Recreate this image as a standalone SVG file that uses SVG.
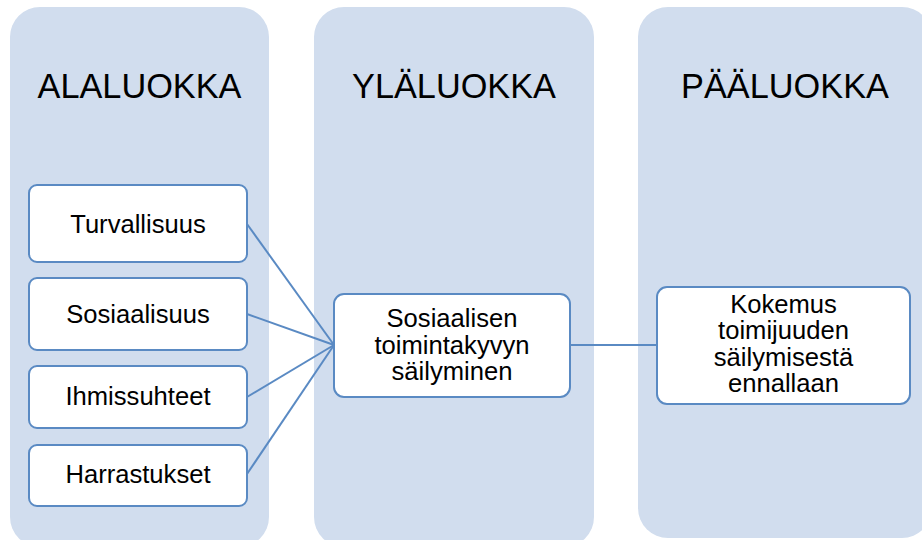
<svg xmlns="http://www.w3.org/2000/svg" width="922" height="540" viewBox="0 0 922 540">
  <style>
    .lane { fill: #D1DDEE; }
    .head { font-family: "Liberation Sans", Arial, sans-serif; font-size: 34.3px; fill: #000; text-anchor: middle; }
    .box { fill: #FFFFFF; stroke: #5A8AC3; stroke-width: 2; }
    .lbl { font-family: "Liberation Sans", Arial, sans-serif; font-size: 25.6px; fill: #000; text-anchor: middle; }
    .link { fill: none; stroke: #5A8AC3; stroke-width: 2; }
  </style>

  <!-- category lanes -->
  <g id="lane-alaluokka">
    <rect class="lane" x="10" y="7" width="259" height="540" rx="30"/>
    <text class="head" x="139.5" y="98">ALALUOKKA</text>
  </g>
  <g id="lane-ylaluokka">
    <rect class="lane" x="314" y="7" width="280" height="540" rx="30"/>
    <text class="head" x="454" y="98">YLÄLUOKKA</text>
  </g>
  <g id="lane-paaluokka">
    <rect class="lane" x="638" y="7" width="294" height="531" rx="30"/>
    <text class="head" x="785" y="98">PÄÄLUOKKA</text>
  </g>

  <!-- connectors -->
  <g id="connectors">
    <line class="link" x1="247" y1="224" x2="334" y2="345"/>
    <line class="link" x1="247" y1="314" x2="334" y2="345"/>
    <line class="link" x1="247" y1="397" x2="334" y2="345"/>
    <line class="link" x1="247" y1="474" x2="334" y2="345"/>
    <line class="link" x1="570" y1="345" x2="657" y2="345"/>
  </g>

  <!-- subcategory nodes -->
  <g id="node-turvallisuus">
    <rect class="box" x="29" y="185" width="218" height="77" rx="8"/>
    <text class="lbl" x="138" y="232.7">Turvallisuus</text>
  </g>
  <g id="node-sosiaalisuus">
    <rect class="box" x="29" y="278" width="218" height="72" rx="8"/>
    <text class="lbl" x="138" y="322.7">Sosiaalisuus</text>
  </g>
  <g id="node-ihmissuhteet">
    <rect class="box" x="29" y="366" width="218" height="62" rx="8"/>
    <text class="lbl" x="138" y="405">Ihmissuhteet</text>
  </g>
  <g id="node-harrastukset">
    <rect class="box" x="29" y="445" width="218" height="61" rx="8"/>
    <text class="lbl" x="138" y="483.3">Harrastukset</text>
  </g>

  <!-- upper category node -->
  <g id="node-sosiaalisen-toimintakyvyn">
    <rect class="box" x="334" y="294" width="236" height="103" rx="10"/>
    <text class="lbl" x="452" y="327">Sosiaalisen</text>
    <text class="lbl" x="452" y="353.5">toimintakyvyn</text>
    <text class="lbl" x="452" y="380">säilyminen</text>
  </g>

  <!-- main category node -->
  <g id="node-kokemus">
    <rect class="box" x="657" y="287" width="253" height="117" rx="10"/>
    <text class="lbl" x="783.5" y="313">Kokemus</text>
    <text class="lbl" x="783.5" y="339.4">toimijuuden</text>
    <text class="lbl" x="783.5" y="365.8">säilymisestä</text>
    <text class="lbl" x="783.5" y="392.2">ennallaan</text>
  </g>
</svg>
